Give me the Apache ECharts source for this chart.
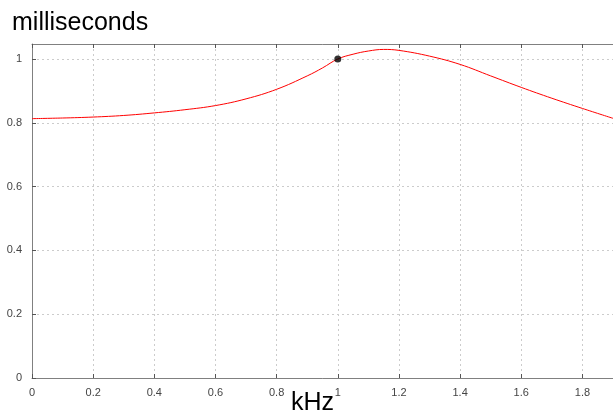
<!DOCTYPE html>
<html>
<head>
<meta charset="utf-8">
<script src="https://cdn.jsdelivr.net/npm/echarts@6/dist/echarts.min.js"></script>
<style>html,body{margin:0;padding:0;background:#fff;}#c{width:613px;height:415px;}</style>
</head>
<body>
<div id="c"></div>
<script>
var freqKHz = [0, 0.1, 0.2, 0.3, 0.4, 0.5, 0.6, 0.7, 0.8, 0.9, 0.95, 1.0, 1.05, 1.1, 1.15, 1.2, 1.3, 1.4, 1.5, 1.6, 1.7, 1.8, 1.9];
var delayMs = [0.813, 0.815, 0.818, 0.823, 0.831, 0.841, 0.854, 0.875, 0.905, 0.947, 0.972, 1.000, 1.015, 1.025, 1.030, 1.027, 1.009, 0.983, 0.947, 0.911, 0.877, 0.845, 0.814];
var markerPoint = [[1, 1]];
var xTicks = [0, 0.2, 0.4, 0.6, 0.8, 1, 1.2, 1.4, 1.6, 1.8];
var yTicks = [0, 0.2, 0.4, 0.6, 0.8, 1];
var xAxisTitle = 'kHz';
var yAxisTitle = 'milliseconds';

var chart = echarts.init(document.getElementById('c'), null, {renderer: 'canvas'});
var lineData = freqKHz.map(function (f, i) { return [f, delayMs[i]]; });
var fontFam = '"Liberation Sans", Arial, sans-serif';
chart.setOption({
  animation: false,
  title: {
    text: yAxisTitle, left: 7, top: 6,
    textStyle: {fontSize: 25, fontWeight: 'normal', color: '#000', fontFamily: fontFam}
  },
  graphic: [{
    type: 'text', left: 291, top: 391, z: 10,
    style: {text: xAxisTitle, fill: '#000', fontSize: 25, fontFamily: fontFam}
  }],
  grid: {left: 32, right: 0, top: 44, bottom: 37, containLabel: false, outerBoundsMode: 'none'},
  xAxis: [{
    type: 'value', min: 0, max: 1.9, interval: 0.2,
    axisLine: {show: true, lineStyle: {color: '#808080', width: 1}},
    axisTick: {show: true, inside: true, length: 4, lineStyle: {color: '#555'}},
    axisLabel: {margin: 9, fontSize: 11, color: '#444', fontFamily: fontFam, showMaxLabel: false,
      formatter: function (v) { return String(+v.toFixed(1)); }},
    splitLine: {show: true, lineStyle: {color: '#cccccc', type: [2, 3], width: 1}}
  }, {
    type: 'value', position: 'top', min: 0, max: 1.9, interval: 0.2,
    axisLine: {show: true, lineStyle: {color: '#808080', width: 1}},
    axisTick: {show: true, inside: true, length: 4, lineStyle: {color: '#555'}},
    axisLabel: {show: false},
    splitLine: {show: false}
  }],
  yAxis: {
    type: 'value', min: 0, max: 1.047, interval: 0.2,
    axisLine: {show: true, lineStyle: {color: '#808080', width: 1}},
    axisTick: {show: true, inside: true, length: 4, lineStyle: {color: '#555'}},
    axisLabel: {margin: 10, fontSize: 11, color: '#444', fontFamily: fontFam, showMaxLabel: false,
      formatter: function (v) { return String(+v.toFixed(1)); }},
    splitLine: {show: true, lineStyle: {color: '#cccccc', type: [2, 3], width: 1}}
  },
  series: [{
    type: 'line', data: lineData, smooth: 0.4, showSymbol: false,
    lineStyle: {color: '#ff0000', width: 1}, z: 3
  }, {
    type: 'scatter', data: markerPoint, symbolSize: 7,
    itemStyle: {color: '#000'}, z: 4
  }]
});
</script>
</body>
</html>
